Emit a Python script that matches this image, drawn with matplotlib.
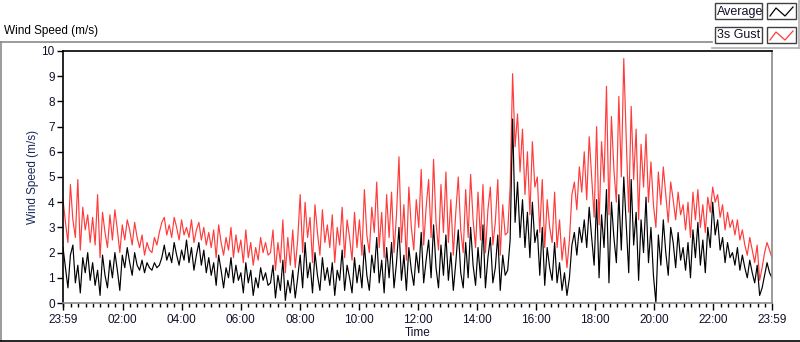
import numpy as np
import matplotlib
matplotlib.use("Agg")
import matplotlib.pyplot as plt
from matplotlib.lines import Line2D
from matplotlib.patches import Rectangle

# average wind speed, 5-minute samples (one row per hour, 23:59 -> 23:59)
average = [
    2.2, 1.4, 0.6, 1.9, 2.3, 0.8, 1.5, 0.4, 1.8, 1.2, 2.0, 0.9,
    1.6, 0.7, 1.3, 0.3, 1.9, 1.1, 0.6, 1.7, 1.0, 2.0, 1.3, 0.5,
    1.9, 1.4, 2.2, 1.6, 1.1, 2.0, 1.5, 1.3, 1.7, 1.2, 1.6, 1.4,
    1.3, 1.6, 1.4, 1.5, 1.8, 2.3, 1.7, 2.0, 1.6, 2.4, 1.9, 1.5,
    2.1, 1.7, 2.5, 1.6, 2.2, 1.3, 1.9, 2.4, 1.5, 2.1, 1.2, 1.8,
    1.1, 1.6, 0.7, 1.9, 1.3, 0.6, 1.4, 1.0, 1.8, 0.8, 1.5, 0.9,
    1.2, 0.4, 1.6, 0.8, 1.3, 0.3, 1.0, 0.6, 1.4, 0.9, 1.2, 0.7,
    0.8, 1.5, 0.2, 1.1, 0.5, 1.7, 0.1, 0.9, 0.4, 1.3, 0.2, 1.0,
    1.9, 0.6, 2.4, 1.0, 1.6, 0.4, 2.0, 1.1, 0.5, 1.8, 0.9, 1.4,
    0.7, 1.6, 0.3, 1.3, 0.9, 2.1, 0.5, 1.5, 1.0, 0.4, 1.8, 0.8,
    1.5, 0.6, 2.3, 1.1, 0.5, 1.9, 1.2, 2.6, 0.8, 1.7, 0.4, 2.2,
    1.0, 2.4, 0.6, 1.6, 3.0, 0.9, 1.9, 0.5, 2.2, 1.3, 0.7, 2.0,
    1.2, 2.8, 0.8, 1.7, 2.5, 1.0, 3.1, 1.4, 0.6, 2.3, 1.1, 2.7,
    0.9, 2.0, 0.5, 1.6, 2.9, 1.2, 0.6, 2.4, 1.0, 3.0, 1.5, 0.7,
    2.2, 1.0, 3.1, 0.6, 1.8, 2.6, 0.8, 1.4, 2.7, 0.5, 1.9, 1.1,
    1.3, 2.5, 7.3, 3.2, 4.8, 2.6, 4.1, 2.2, 3.6, 1.8, 4.0, 2.4,
    2.9, 1.1, 3.0, 0.7, 2.2, 1.4, 0.9, 2.4, 0.8, 1.6, 0.5, 1.2,
    0.3, 1.0, 2.3, 2.8, 1.9, 3.0, 2.4, 3.3, 2.2, 3.8, 2.6, 1.5,
    4.1, 1.0, 3.5, 2.2, 4.5, 0.8, 4.0, 2.6, 1.6, 4.3, 2.1, 5.0,
    3.1, 1.2, 4.9, 2.3, 3.6, 0.9, 3.3, 2.0, 4.2, 1.6, 3.0, 1.1,
    0.0, 2.7, 1.5, 3.3, 2.0, 1.1, 3.0, 2.4, 1.4, 2.8, 1.7, 2.2,
    1.3, 2.4, 1.0, 2.9, 1.8, 3.2, 1.5, 2.5, 1.2, 3.0, 2.2, 4.0,
    2.7, 3.3, 2.1, 2.6, 1.6, 2.4, 1.8, 2.0, 1.5, 2.2, 1.3, 1.9,
    1.4, 1.0, 1.7, 1.2, 0.8, 1.5, 0.3, 0.6, 1.1, 1.6, 1.2, 1.0,
]

# 3s gust, same sampling
gust = [
    4.1, 3.2, 2.4, 4.7, 3.3, 2.6, 4.9, 2.1, 3.8, 2.9, 3.5, 2.4,
    3.4, 2.3, 4.3, 1.8, 3.6, 2.8, 2.2, 3.5, 2.5, 3.7, 2.9, 2.0,
    3.1, 2.5, 3.3, 2.9, 2.3, 3.2, 2.6, 2.2, 2.7, 1.9, 2.4, 2.1,
    2.0, 2.6, 2.3, 2.8, 3.2, 3.4, 2.7, 3.1, 2.6, 3.4, 3.0, 2.5,
    3.3, 2.7, 3.0, 2.6, 3.3, 2.4, 2.9, 3.2, 2.5, 3.0, 2.3, 2.8,
    2.2, 2.9, 1.8, 3.1, 2.4, 1.9, 2.6, 2.1, 3.0, 1.8, 2.7, 2.0,
    2.5, 1.6, 2.9, 1.8, 2.4, 1.5, 2.2, 1.7, 2.6, 2.0, 2.4, 1.9,
    2.0, 2.9, 1.3, 2.4, 1.6, 3.3, 1.2, 2.6, 1.5, 2.9, 1.4, 2.5,
    4.3, 2.0, 4.0, 2.6, 3.4, 1.6, 3.9, 2.8, 1.9, 3.7, 2.4, 3.1,
    2.2, 3.5, 1.6, 3.0, 2.3, 3.8, 1.8, 3.3, 2.6, 1.7, 3.6, 2.2,
    3.3, 1.9, 4.5, 2.7, 2.0, 3.8, 2.8, 4.8, 2.2, 3.6, 1.8, 4.3,
    2.6, 4.4, 2.0, 3.5, 5.8, 2.4, 3.9, 1.7, 4.6, 3.0, 2.1, 4.1,
    3.0, 5.3, 2.3, 3.8, 4.9, 2.6, 5.7, 3.2, 2.1, 4.7, 2.8, 5.2,
    2.4, 4.1, 1.9, 3.6, 5.0, 2.9, 2.0, 4.5, 2.6, 5.1, 3.3, 2.2,
    4.4, 2.5, 4.7, 2.0, 3.7, 4.6, 2.3, 3.2, 4.9, 1.9, 3.9, 2.7,
    2.8, 4.6, 9.1, 6.2, 7.5, 5.2, 6.9, 4.3, 6.0, 3.5, 6.4, 4.6,
    5.0, 2.8, 4.9, 2.2, 4.1, 3.0, 2.4, 4.4, 2.2, 3.3, 1.7, 2.6,
    1.4, 2.5, 4.3, 4.8, 3.7, 5.4, 4.4, 6.0, 4.1, 6.6, 5.0, 3.4,
    7.0, 3.1, 6.4, 4.8, 8.6, 3.5, 7.4, 5.3, 4.0, 8.2, 5.0, 9.7,
    6.5, 3.6, 7.8, 4.9, 6.9, 3.3, 6.3, 4.6, 6.7, 4.0, 5.6, 3.9,
    3.0, 5.2, 3.9, 5.4, 4.3, 3.2, 4.8, 4.1, 3.3, 4.4, 3.5, 3.9,
    2.9, 4.0, 2.6, 4.4, 3.3, 4.5, 3.0, 3.9, 2.8, 4.2, 3.6, 4.6,
    4.0, 4.3, 3.4, 3.9, 2.9, 3.6, 3.0, 3.3, 2.7, 3.3, 2.5, 2.9,
    2.3, 1.9, 2.6, 2.1, 1.6, 2.3, 0.9, 1.4, 2.0, 2.4, 2.1, 1.8,
]

tick_minutes = [0, 121, 241, 361, 481, 601, 721, 841, 961, 1081, 1201, 1321, 1440]
tick_labels = ["23:59", "02:00", "04:00", "06:00", "08:00", "10:00", "12:00",
               "14:00", "16:00", "18:00", "20:00", "22:00", "23:59"]

W, H = 800, 342
TXT = "#10102a"
plt.rcParams["font.family"] = ["Liberation Sans", "DejaVu Sans"]
plt.rcParams["font.size"] = 8.5

fig = plt.figure(figsize=(W / 100, H / 100), dpi=100)
fig.patch.set_facecolor("white")


def fx(x):
    return x / W


def fy(y):
    return 1 - y / H


ax = fig.add_axes([fx(63), fy(303), fx(772) - fx(63), fy(51) - fy(303)])

t = np.arange(len(average)) * 1440 / (len(average) - 1)
ax.plot(t, gust, color="#ff3b3b", lw=0.85)
ax.plot(t, average, color="black", lw=0.85)

ax.set_xlim(0, 1440)
ax.set_ylim(0, 10)
ax.set_yticks(range(0, 11))
ax.set_xticks(tick_minutes)
ax.set_xticklabels(tick_labels)
ax.set_xticks(np.arange(1, 1440, 15), minor=True)
ax.tick_params(axis="y", length=4, width=1, color="black", labelcolor=TXT, pad=2)
ax.tick_params(axis="x", which="major", length=5, width=1, color="black", labelcolor=TXT, pad=3)
ax.tick_params(axis="x", which="minor", length=3, width=1, color="black")
ax.set_ylabel("Wind Speed (m/s)", color="#1c2a5a", labelpad=2)
ax.set_xlabel("Time", color=TXT, labelpad=1)

ax.spines["top"].set_color("black")
ax.spines["left"].set_color("black")
ax.spines["bottom"].set_color("#8a8a8a")
ax.spines["right"].set_color("#8a8a8a")
for s in ax.spines.values():
    s.set_linewidth(1.2)

# outer panel frame
fig.add_artist(Line2D([fx(0), fx(712)], [fy(42), fy(42)], color="#8a8a8a", lw=1.2))
fig.add_artist(Line2D([fx(0.7), fx(0.7)], [fy(42), fy(341)], color="#8a8a8a", lw=1.2))
fig.add_artist(Line2D([fx(0), fx(800)], [fy(341), fy(341)], color="black", lw=1.2))
fig.text(fx(4), fy(31), "Wind Speed (m/s)", color="black", va="center", ha="left")

# legend panel
fig.add_artist(Line2D([fx(712), fx(799)], [fy(48), fy(48)], color="#b0b0b0", lw=1.2))
fig.add_artist(Line2D([fx(799), fx(799)], [fy(0), fy(48)], color="#b0b0b0", lw=1.2))
rows = [("Average", "black", 3), ("3s Gust", "#ff3b3b", 27)]
for name, col, y0 in rows:
    fig.add_artist(Rectangle((fx(715), fy(y0 + 16)), fx(47), fy(0) - fy(16),
                             fill=False, ec="#404040", lw=1.0))
    fig.add_artist(Rectangle((fx(767), fy(y0 + 16)), fx(29), fy(0) - fy(16),
                             fill=False, ec="#404040", lw=1.0))
    zx = [770, 776, 785, 793]
    zy = [y0 + 13, y0 + 5, y0 + 13, y0 + 4]
    fig.add_artist(Line2D([fx(v) for v in zx], [fy(v) for v in zy], color=col, lw=0.9))
    fig.text(fx(717), fy(y0 + 8.5), name, color=TXT, va="center", ha="left", fontsize=9)

fig.savefig("out.png", dpi=100)
